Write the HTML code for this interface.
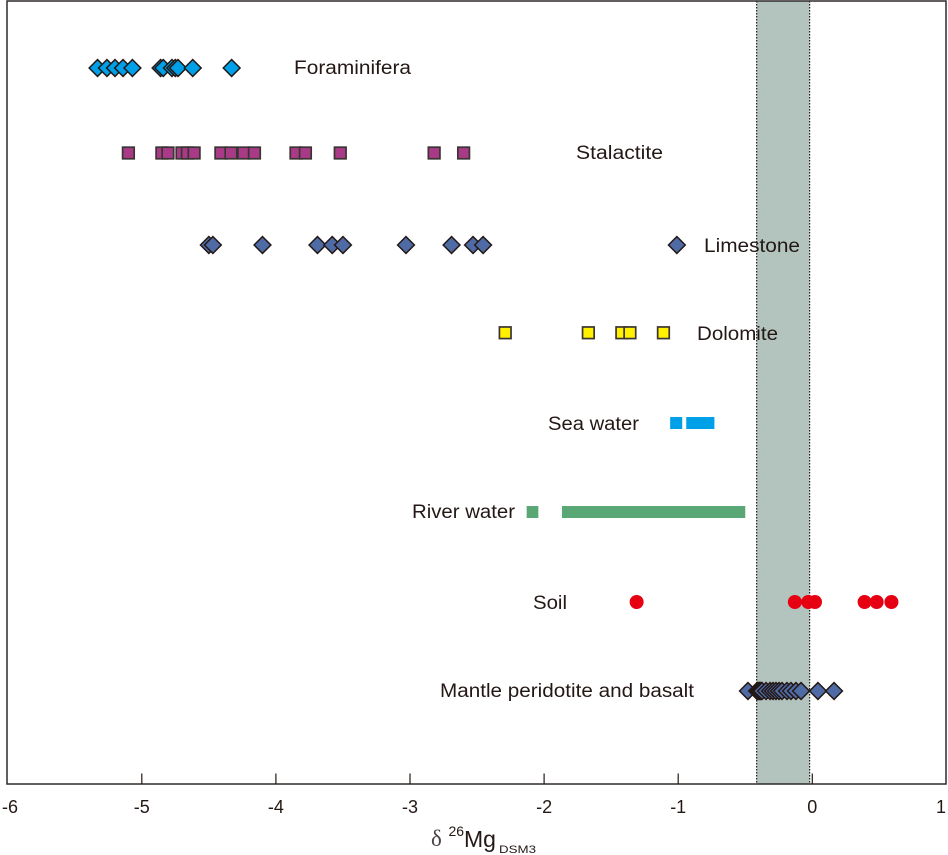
<!DOCTYPE html>
<html>
<head>
<meta charset="utf-8">
<title>Delta 26 Mg chart</title>
<style>
html,body{margin:0;padding:0;background:#fff;}
svg{display:block;font-family:"Liberation Sans",Arial,sans-serif;}
.lbl{font-size:19px;fill:#231815;}
.tick{font-size:18px;fill:#231815;text-anchor:middle;}
</style>
</head>
<body>
<svg id="chart" width="948" height="855" viewBox="0 0 948 855" xmlns="http://www.w3.org/2000/svg">
<g id="band-layer"></g>
<g id="axis-layer"></g>
<g id="mark-layer"></g>
<g>
<text class="lbl" x="294" y="74" textLength="117" lengthAdjust="spacingAndGlyphs">Foraminifera</text>
<text class="lbl" x="576" y="159" textLength="87" lengthAdjust="spacingAndGlyphs">Stalactite</text>
<text class="lbl" x="704" y="252" textLength="96" lengthAdjust="spacingAndGlyphs">Limestone</text>
<text class="lbl" x="697" y="340" textLength="81" lengthAdjust="spacingAndGlyphs">Dolomite</text>
<text class="lbl" x="548" y="430" textLength="91" lengthAdjust="spacingAndGlyphs">Sea water</text>
<text class="lbl" x="412" y="518" textLength="103" lengthAdjust="spacingAndGlyphs">River water</text>
<text class="lbl" x="533" y="609" textLength="34" lengthAdjust="spacingAndGlyphs">Soil</text>
<text class="lbl" x="440" y="697" textLength="254" lengthAdjust="spacingAndGlyphs">Mantle peridotite and basalt</text>
</g>
<g fill="#231815">
<text x="431" y="846" font-size="23" fill="#4a4543" style="font-family:'Liberation Serif',serif">δ</text>
<text x="448.500" y="836" font-size="14">26</text>
<text x="464" y="847" font-size="23">Mg</text>
<text x="499" y="853" font-size="11" textLength="37" lengthAdjust="spacingAndGlyphs">DSM3</text>
</g>
</svg>
<script>
var xTicks = [-6, -5, -4, -3, -2, -1, 0, 1];
var foraminifera = [-5.33, -5.26, -5.20, -5.14, -5.07, -4.86, -4.84, -4.775, -4.75, -4.73, -4.62, -4.33];
var stalactite = [-5.10, -4.85, -4.805, -4.70, -4.66, -4.61, -4.41, -4.335, -4.24, -4.16, -3.85, -3.78, -3.52, -2.82, -2.60];
var limestone = [-4.50, -4.47, -4.10, -3.69, -3.58, -3.50, -3.03, -2.69, -2.53, -2.455, -1.01];
var dolomite = [-2.29, -1.67, -1.42, -1.36, -1.11];
var seaWater = [[-1.06, -0.97], [-0.94, -0.73]];
var riverWater = [[-2.13, -2.043], [-1.867, -0.50]];
var soil = [-1.31, -0.13, -0.03, 0.02, 0.39, 0.48, 0.59];
var mantle = [-0.48, -0.412, -0.405, -0.397, -0.39, -0.383, -0.375, -0.345, -0.315, -0.293, -0.271, -0.248, -0.226, -0.189, -0.159, -0.122, -0.084, 0.042, 0.162];
var mantleRange = [-0.415, -0.02];
var rowLevels = { foraminifera: 8.045, stalactite: 7.09, limestone: 6.056, dolomite: 5.07, seaWater: 4.056, riverWater: 3.056, soil: 2.045, mantle: 1.045 };

var NS = 'http://www.w3.org/2000/svg';
function xScale(v) { return 812.3 + 134.1 * v; }
function yScale(l) { return 784 - 89 * l; }
function make(parent, tag, attrs) {
  var el = document.createElementNS(NS, tag);
  for (var k in attrs) el.setAttribute(k, attrs[k]);
  parent.appendChild(el);
  return el;
}
var bandLayer = document.getElementById('band-layer');
var axisLayer = document.getElementById('axis-layer');
var markLayer = document.getElementById('mark-layer');
var INK = '#231815';

/* shaded range */
var bx0 = xScale(mantleRange[0]), bx1 = xScale(mantleRange[1]);
var band = make(bandLayer, 'rect', { x: bx0, y: 1, width: bx1 - bx0, height: 783, fill: '#b3c3be' });


mantleRange.forEach(function (v) {
  var edge = make(bandLayer, 'line', { x1: xScale(v), x2: xScale(v), y1: 1, y2: 784, stroke: INK, 'stroke-width': 1.2, 'stroke-dasharray': '1.5 1.5' });
  
  
});

/* frame */
var frame = make(axisLayer, 'rect', { x: 7, y: 1, width: 939, height: 783, fill: 'none', stroke: '#2f2a28', 'stroke-width': 1.5 });



/* ticks */
xTicks.forEach(function (t, i) {
  var x = xScale(t);
  if (i > 0 && i < xTicks.length - 1) {
    var tick = make(axisLayer, 'line', { x1: x, x2: x, y1: 773.5, y2: 784, stroke: INK, 'stroke-width': 1.2 });
    
    
  }
  var tx = Math.min(Math.max(x, 10), 941);
  var label = make(axisLayer, 'text', { x: tx, y: 813, 'class': 'tick' });
  label.textContent = String(t);
  
  
});

/* markers */
function diamonds(values, level, fill, name) {
  var y = yScale(level);
  values.forEach(function (v) {
    var x = xScale(v), r = 8.4;
    var m = make(markLayer, 'polygon', { points: [x - r, y, x, y - r, x + r, y, x, y + r].join(' '), fill: fill, stroke: INK, 'stroke-width': 1.5 });
    
    
  });
}
function squares(values, level, fill, name) {
  var y = yScale(level);
  values.forEach(function (v) {
    var x = xScale(v);
    var m = make(markLayer, 'rect', { x: x - 5.8, y: y - 5.8, width: 11.6, height: 11.6, fill: fill, stroke: '#3a3432', 'stroke-width': 1.7 });
    
    
  });
}
function circles(values, level, fill, name) {
  var y = yScale(level);
  values.forEach(function (v) {
    var m = make(markLayer, 'circle', { cx: xScale(v), cy: y, r: 7, fill: fill });
    
    
  });
}
function ranges(values, level, fill, name) {
  var y = yScale(level);
  values.forEach(function (r) {
    var m = make(markLayer, 'rect', { x: xScale(r[0]), y: y - 6, width: xScale(r[1]) - xScale(r[0]), height: 12, fill: fill });
    
    
  });
}
diamonds(foraminifera, rowLevels.foraminifera, '#00a0e9', 'foraminifera-point');
squares(stalactite, rowLevels.stalactite, '#a93a87', 'stalactite-point');
diamonds(limestone, rowLevels.limestone, '#4f6ba6', 'limestone-point');
squares(dolomite, rowLevels.dolomite, '#fff100', 'dolomite-point');
ranges(seaWater, rowLevels.seaWater, '#00a0e9', 'sea-water-range');
ranges(riverWater, rowLevels.riverWater, '#58a774', 'river-water-range');
circles(soil, rowLevels.soil, '#e60012', 'soil-point');
diamonds(mantle, rowLevels.mantle, '#4f6ba6', 'mantle-point');
</script>
</body>
</html>
